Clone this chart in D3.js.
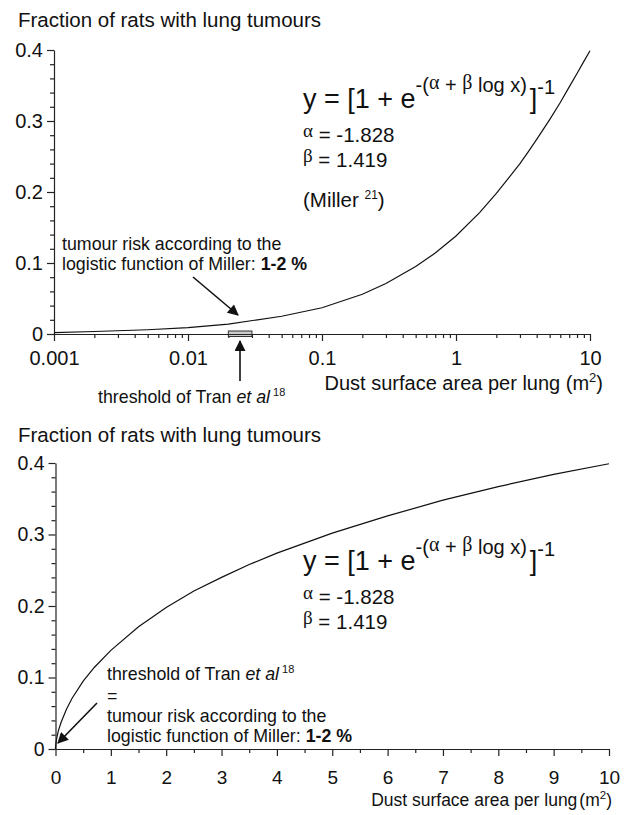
<!DOCTYPE html>
<head>
<style>
	body{ margin:0; background:white; }
	svg{ display:block; }
	text{ font-family:"Liberation Sans", Arial, sans-serif; fill:#111; }
	.axis path, .axis line{ stroke:#222; stroke-width:1.2; }
</style>
</head>
<body>
<script src="https://cdn.jsdelivr.net/npm/d3@7"></script>
<svg width="630" height="815"></svg>
<script>
	// values (dust surface area in m2, fraction of rats)
	var dustArea = [0.001, 0.002, 0.005, 0.01, 0.02, 0.05, 0.1, 0.2, 0.3, 0.5, 0.7, 1, 1.5, 2, 2.5, 3, 3.5, 4, 5, 6, 7, 8, 9, 10];
	var tumourFrac = [0.002, 0.0035, 0.006, 0.009, 0.014, 0.025, 0.037, 0.056, 0.071, 0.095, 0.114, 0.138, 0.171, 0.198, 0.221, 0.240, 0.258, 0.274, 0.302, 0.326, 0.348, 0.367, 0.384, 0.399];
	var logTicks = [0.001, 0.01, 0.1, 1, 10];
	var linTicks = [0,1,2,3,4,5,6,7,8,9,10];
	var yTicks = [0, 0.1, 0.2, 0.3, 0.4];
	var yMinor = [0.02,0.04,0.06,0.08,0.12,0.14,0.16,0.18,0.22,0.24,0.26,0.28,0.32,0.34,0.36,0.38];
	var threshold = [0.02, 0.03];

	var pts = dustArea.map(function(d,i){ return {x:d, y:tumourFrac[i]}; });
	var svg = d3.select("svg");

	svg.append("defs").append("marker")
		.attr("id","head")
		.attr("viewBox","0 0 10 10")
		.attr("refX",9).attr("refY",5)
		.attr("markerWidth",15).attr("markerHeight",11)
		.attr("markerUnits","userSpaceOnUse")
		.attr("orient","auto")
		.append("path").attr("d","M0,0 L10,5 L0,10 z").attr("fill","#111");

	function fmtY(d){ return d === 0 ? "0" : d3.format(".1f")(d); }

	function yAxis(y, x0, fs){
		svg.append("g").attr("class","axis")
			.attr("transform","translate("+x0+",0)")
			.call(d3.axisLeft(y).tickValues(yTicks).tickFormat(fmtY).tickSize(7).tickPadding(4).tickSizeOuter(0))
			.call(function(g){ g.selectAll("text").style("font-size",fs+"px").attr("font-family",null); });
		svg.append("g").attr("class","axis")
			.attr("transform","translate("+x0+",0)")
			.call(d3.axisLeft(y).tickValues(yMinor).tickFormat("").tickSize(4).tickSizeOuter(0))
			.select(".domain").remove();
	}

	function equation(x, yb, withMiller){
		var t = svg.append("text").attr("x",x).attr("y",yb).style("font-size","27px");
		t.append("tspan").text("y = [1 + e");
		t.append("tspan").attr("dy",-16).style("font-size","20px").text("-(");
		t.append("tspan").style("font-family","'Liberation Serif', serif").style("font-size","20px").attr("dy",-3).text("α");
		t.append("tspan").style("font-size","20px").attr("dy",3).text(" + ");
		t.append("tspan").style("font-family","'Liberation Serif', serif").style("font-size","20px").attr("dy",-3).text("β");
		t.append("tspan").style("font-size","20px").attr("dy",3).text(" log x)");
		t.append("tspan").attr("dx",3).attr("dy",16).text("]");
		t.append("tspan").attr("dy",-14).style("font-size","20px").text("-1");

		[["α","= -1.828",34],["β","= 1.419",59]].forEach(function(p){
			var s = svg.append("text").attr("x",x).attr("y",yb+p[2]).style("font-size","20.5px");
			s.append("tspan").style("font-family","'Liberation Serif', serif").style("font-size","19px").attr("dy",-5).text(p[0]);
			s.append("tspan").attr("dy",5).text(" " + p[1]);
		});
		if(withMiller){
			var m = svg.append("text").attr("x",x).attr("y",yb+99).style("font-size","20.5px");
			m.append("tspan").text("(Miller ");
			m.append("tspan").attr("dy",-8).style("font-size","12px").text("21");
			m.append("tspan").attr("dy",8).text(")");
		}
	}

	function tranLabel(x, yb){
		var t = svg.append("text").attr("x",x).attr("y",yb).style("font-size","17.8px");
		t.append("tspan").text("threshold of Tran ");
		t.append("tspan").style("font-style","italic").text("et al");
		t.append("tspan").attr("dy",-7).style("font-size","11px").text(" 18");
	}

	function riskLabel(x, yb){
		svg.append("text").attr("x",x).attr("y",yb).style("font-size","17.8px").text("tumour risk according to the");
		var t = svg.append("text").attr("x",x).attr("y",yb+20).style("font-size","17.8px");
		t.append("tspan").text("logistic function of Miller: ");
		t.append("tspan").style("font-weight","bold").text("1-2 %");
	}

	// ---------- top panel (log x) ----------
	var xTop = d3.scaleLog().domain([0.001,10]).range([54,590]);
	var yTop = d3.scaleLinear().domain([0,0.4]).range([334,50]);

	svg.append("text").attr("x",18).attr("y",27).style("font-size","20.5px").text("Fraction of rats with lung tumours");

	var logMinor = [];
	logTicks.slice(0,-1).forEach(function(d){ for(var k=2;k<10;k++) logMinor.push(d*k); });

	svg.append("g").attr("class","axis")
		.attr("transform","translate(0,"+yTop(0)+")")
		.call(d3.axisBottom(xTop).tickValues(logMinor).tickFormat("").tickSize(4).tickSizeOuter(0))
		.select(".domain").remove();

	svg.append("rect")
		.attr("x",xTop(threshold[0])).attr("y",yTop(0)-3)
		.attr("width",xTop(threshold[1])-xTop(threshold[0])).attr("height",5.5)
		.attr("fill","#ccc").attr("stroke","#333").attr("stroke-width",1);

	svg.append("g").attr("class","axis")
		.attr("transform","translate(0,"+yTop(0)+")")
		.call(d3.axisBottom(xTop).tickValues(logTicks).tickFormat(function(d){ return String(d); }).tickSize(7).tickPadding(10).tickSizeOuter(0))
		.call(function(g){ g.selectAll("text").style("font-size","20px").attr("font-family",null); });

	yAxis(yTop, 54, 20);

	svg.append("path").datum(pts)
		.attr("fill","none").attr("stroke","#111").attr("stroke-width",1.2)
		.attr("d", d3.line().x(function(d){ return xTop(d.x); }).y(function(d){ return yTop(d.y); }));

	equation(303, 108, true);
	riskLabel(62, 250);
	svg.append("line").attr("x1",193).attr("y1",277).attr("x2",238).attr("y2",315)
		.attr("stroke","#111").attr("stroke-width",1.6).attr("marker-end","url(#head)");
	svg.append("line").attr("x1",240).attr("y1",381).attr("x2",240).attr("y2",341)
		.attr("stroke","#111").attr("stroke-width",1.6).attr("marker-end","url(#head)");
	tranLabel(98, 403);

	var tt = svg.append("text").attr("x",603).attr("y",390).attr("text-anchor","end").style("font-size","20px");
	tt.append("tspan").text("Dust surface area per lung (m");
	tt.append("tspan").attr("dy",-8).style("font-size","13px").text("2");
	tt.append("tspan").attr("dy",8).text(")");

	// ---------- bottom panel (linear x) ----------
	var xBot = d3.scaleLinear().domain([0,10]).range([55.5,609]);
	var yBot = d3.scaleLinear().domain([0,0.4]).range([749,463]);

	svg.append("text").attr("x",18).attr("y",442).style("font-size","20.5px").text("Fraction of rats with lung tumours");

	svg.append("g").attr("class","axis")
		.attr("transform","translate(0,"+yBot(0)+")")
		.call(d3.axisBottom(xBot).tickValues(d3.range(0.5,10,1)).tickFormat("").tickSize(4).tickSizeOuter(0))
		.select(".domain").remove();
	svg.append("g").attr("class","axis")
		.attr("transform","translate(0,"+yBot(0)+")")
		.call(d3.axisBottom(xBot).tickValues(linTicks).tickFormat(d3.format("d")).tickSize(7).tickPadding(15).tickSizeOuter(0))
		.call(function(g){ g.selectAll("text").style("font-size","19px").attr("font-family",null); });

	yAxis(yBot, 55.5, 19.5);

	svg.append("path").datum([{x:0,y:0}].concat(pts))
		.attr("fill","none").attr("stroke","#111").attr("stroke-width",1.2)
		.attr("d", d3.line().x(function(d){ return xBot(d.x); }).y(function(d){ return yBot(d.y); }));

	equation(303, 570, false);
	tranLabel(107, 680);
	svg.append("text").attr("x",107).attr("y",702).style("font-size","17.8px").text("=");
	riskLabel(107, 722);
	svg.append("line").attr("x1",97).attr("y1",703).attr("x2",58).attr("y2",743)
		.attr("stroke","#111").attr("stroke-width",1.6).attr("marker-end","url(#head)");

	var bt = svg.append("text").attr("x",612).attr("y",806).attr("text-anchor","end").style("font-size","17.5px");
	bt.append("tspan").text("Dust surface area per lung");
	bt.append("tspan").attr("dx",2).text("(m");
	bt.append("tspan").attr("dy",-7).style("font-size","11.5px").text("2");
	bt.append("tspan").attr("dy",7).text(")");
</script>
</body>
</html>
